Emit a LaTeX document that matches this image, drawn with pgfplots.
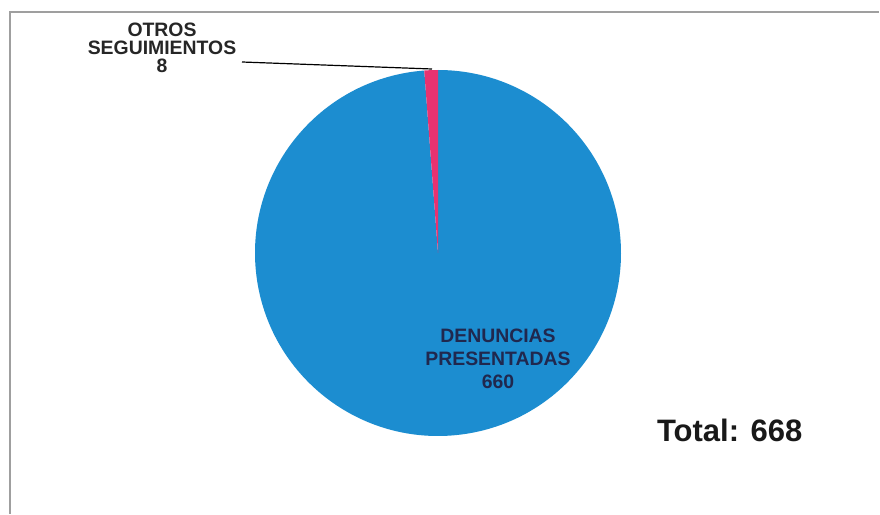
\documentclass[border=0pt]{standalone}
\usepackage{pgfplots}
\pgfplotsset{compat=1.18}
\usepackage{fontspec}
\setmainfont{Liberation Sans}
\definecolor{pieblue}{RGB}{28,141,208}
\definecolor{piered}{RGB}{232,50,112}
\definecolor{labnavy}{RGB}{32,40,78}
% data
\def\valA{660}% DENUNCIAS PRESENTADAS
\def\valB{8}%   OTROS SEGUIMIENTOS
\begin{document}
\begin{tikzpicture}
\pgfmathsetmacro{\tot}{\valA+\valB}
\pgfmathsetmacro{\angB}{360*\valB/\tot}
\begin{axis}[
  scale only axis, width=440pt, height=257pt,
  xmin=0, xmax=880, ymin=0, ymax=514,
  hide axis, clip=false,
]
\path (axis cs:0,0) rectangle (axis cs:880,514);
% frame
\draw[gray!75, line width=1pt] (axis cs:10,0) -- (axis cs:10,502) -- (axis cs:879,502);
% pie (center 438,261 in flipped coords; radius 183px = 91.5pt)
\fill[pieblue] (axis cs:438,261) -- ++(90+\angB:91.5pt) arc[start angle=90+\angB, end angle=450, radius=91.5pt] -- cycle;
\fill[piered] (axis cs:438,261) -- ++(90:91.5pt) arc[start angle=90, end angle=90+\angB, radius=91.5pt] -- cycle;
% leader line
\draw[black, line width=0.6pt] (axis cs:242,452) -- (axis cs:432,445);
% labels
\node[align=center, font=\fontsize{9.7}{9}\selectfont\bfseries, text=black!85] at (axis cs:162,466) {OTROS\\SEGUIMIENTOS\\\valB};
\node[align=center, font=\fontsize{9.7}{11.5}\selectfont\bfseries, text=labnavy] at (axis cs:498,155) {DENUNCIAS\\PRESENTADAS\\\valA};
\node[anchor=west, font=\fontsize{15.5}{18}\selectfont\bfseries, text=black!90] at (axis cs:650,84) {Total: 668};
\end{axis}
\end{tikzpicture}
\end{document}
